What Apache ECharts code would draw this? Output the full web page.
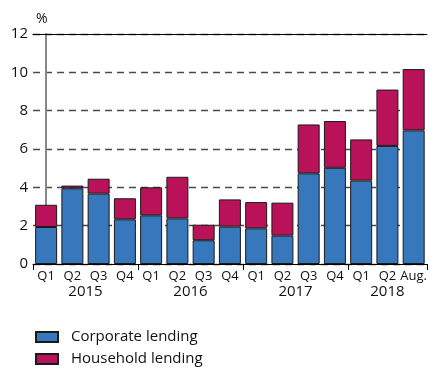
<!DOCTYPE html>
<html>
<head>
<meta charset="utf-8">
<script src="https://cdn.jsdelivr.net/npm/echarts@6/dist/echarts.min.js"></script>
<style>html,body{margin:0;padding:0;background:#fff}#c{width:430px;height:371px}</style>
</head>
<body>
<div id="c"></div>
<script>
var categories = ['Q1','Q2','Q3','Q4','Q1','Q2','Q3','Q4','Q1','Q2','Q3','Q4','Q1','Q2','Aug.'];
var years = ['2015','2016','2017','2018'];
var yearCenters = [1.5, 5.5, 9.5, 13];
var yearBounds = [-0.5, 3.5, 7.5, 11.5, 14.5];
var corporate = [1.93, 3.95, 3.67, 2.33, 2.54, 2.38, 1.24, 1.95, 1.86, 1.48, 4.73, 5.02, 4.35, 6.16, 6.97];
var household = [1.16, 0.14, 0.78, 1.10, 1.46, 2.17, 0.81, 1.42, 1.37, 1.72, 2.55, 2.44, 2.15, 2.94, 3.20];
var yTicks = [0, 2, 4, 6, 8, 10, 12];

var font = 'Open Sans';
var chart = echarts.init(document.getElementById('c'));
chart.setOption({
  animation: false,
  textStyle: {fontFamily: font},
  title: {text: '%', left: 36, top: 12, padding: 0,
    textStyle: {fontFamily: font, fontSize: 14, fontWeight: 'normal', color: '#111'}},
  grid: {left: 33, right: 3, top: 34, bottom: 107, containLabel: false},
  legend: {
    orient: 'vertical', left: 35, top: 328, padding: 0, itemWidth: 22, itemHeight: 10, itemGap: 4,
    icon: 'rect',
    textStyle: {fontFamily: font, fontSize: 15, color: '#111', padding: [0, 0, 0, 8], lineHeight: 18},
    data: ['Corporate lending', 'Household lending']
  },
  xAxis: [
    {
      type: 'category', data: categories, position: 'bottom',
      axisLine: {show: true, lineStyle: {color: '#000', width: 1}},
      axisTick: {show: false},
      axisLabel: {color: '#111', fontSize: 13, margin: 6, interval: 0}
    },
    {
      type: 'value', min: -0.5, max: 14.5, interval: 0.5, position: 'bottom',
      axisLine: {show: false},
      axisTick: {show: true, customValues: yearBounds, length: 6, lineStyle: {color: '#000', width: 1}},
      axisLabel: {
        customValues: yearCenters, color: '#111', fontSize: 15, margin: 20,
        formatter: function (v) { var i = yearCenters.indexOf(v); return i >= 0 ? years[i] : ''; }
      },
      splitLine: {show: false}
    },
    {
      type: 'value', min: -0.5, max: 14.5, position: 'top',
      axisLine: {show: true, lineStyle: {color: '#000', width: 1}},
      axisTick: {show: false}, axisLabel: {show: false}, splitLine: {show: false}
    }
  ],
  yAxis: [
    {
      type: 'value', min: 0, max: 12, interval: 2,
      axisLine: {show: true, lineStyle: {color: '#000', width: 1}},
      axisTick: {show: false},
      axisLabel: {color: '#111', fontSize: 15, margin: 5,
        formatter: function (v) { return yTicks.indexOf(v) >= 0 ? String(v) : ''; }},
      splitLine: {show: true, lineStyle: {color: '#4a4a4a', width: 1.3, type: [7, 5]}}
    },
    {
      type: 'value', min: 0, max: 12, position: 'right',
      axisLine: {show: true, lineStyle: {color: '#888', width: 2}},
      axisTick: {show: false}, axisLabel: {show: false}, splitLine: {show: false}
    }
  ],
  series: [
    {
      name: 'Corporate lending', type: 'bar', stack: 'a', data: corporate, barWidth: 22,
      itemStyle: {color: '#3777bc', borderColor: '#1a1a1a', borderWidth: 1}
    },
    {
      name: 'Household lending', type: 'bar', stack: 'a', data: household, barWidth: 22,
      itemStyle: {color: '#ba1259', borderColor: '#1a1a1a', borderWidth: 1}
    }
  ]
});
</script>
</body>
</html>
